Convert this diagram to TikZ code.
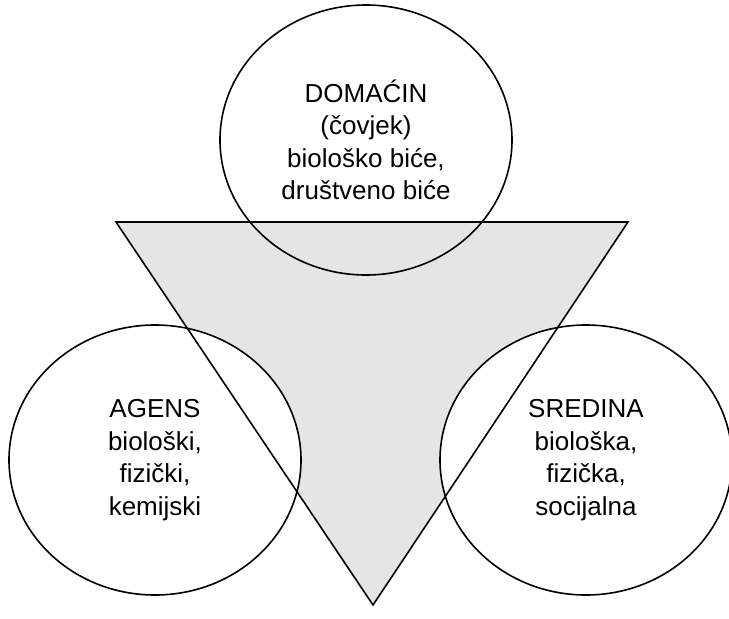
\documentclass[tikz,border=0pt]{standalone}
\usepackage{fontspec}
\setmainfont{Liberation Sans}
\usetikzlibrary{shapes.geometric}
\tikzset{krug/.style={ellipse,draw,line width=1.6pt,minimum width=292pt,minimum height=270pt,
  inner sep=0pt,align=center,font=\fontsize{26}{32.5}\selectfont}}

\begin{document}
\begin{tikzpicture}[x=1pt,y=-1pt]
      \useasboundingbox (0,0) rectangle (729,619);
      \coordinate (A) at (116,222);
      \coordinate (B) at (628,222);
      \coordinate (C) at (373,605);
      \fill[black!10] (A)--(B)--(C)--cycle;
      \node[krug,fill=white] (agens) at (155,460) {AGENS\\biološki,\\fizički,\\kemijski};
      \node[krug,fill=white] (sredina) at (586,460) {SREDINA\\biološka,\\fizička,\\socijalna};
      \draw[line width=1.6pt] (A)--(B)--(C)--cycle;
      \node[krug] (domacin) at (366,140) {DOMAĆIN\\(čovjek)\\biološko biće,\\društveno biće};
    \end{tikzpicture}
\end{document}
